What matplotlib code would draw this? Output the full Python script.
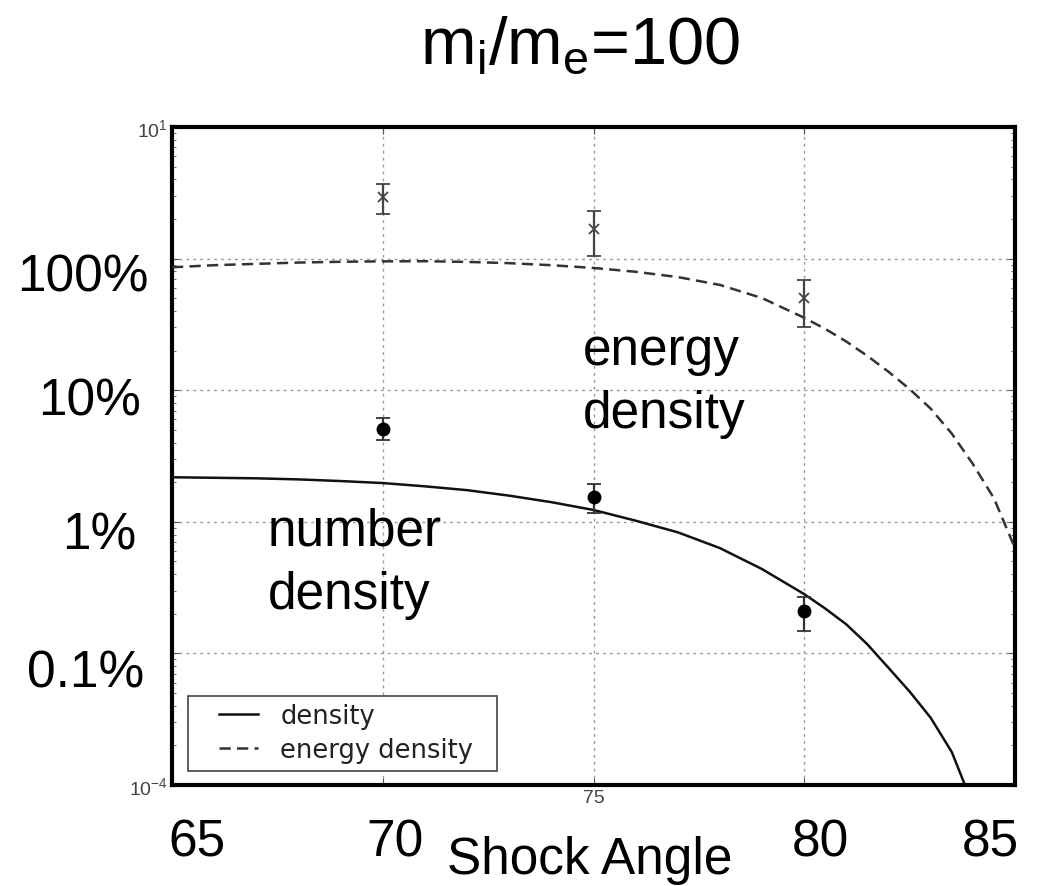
import matplotlib
matplotlib.use("Agg")
import matplotlib.pyplot as plt
import matplotlib.patches as mpatches
import numpy as np
from matplotlib.ticker import LogLocator, FixedLocator, NullFormatter, FixedFormatter

plt.rcParams['font.family'] = ['Liberation Sans', 'DejaVu Sans']
plt.rcParams['mathtext.fontset'] = 'custom'
plt.rcParams['mathtext.rm'] = 'Liberation Sans'
plt.rcParams['mathtext.it'] = 'Liberation Sans:italic'

# ---- data ----
angle_pts = [70, 75, 80]
energy_val = [2.93, 1.69, 0.50]
energy_lo = [2.18, 1.05, 0.30]
energy_hi = [3.68, 2.28, 0.69]
number_val = [0.0505, 0.0155, 0.0021]
number_lo = [0.0417, 0.0117, 0.00148]
number_hi = [0.061, 0.0195, 0.0027]

density_x = [65, 66, 67, 68, 69, 70, 71, 72, 73, 74, 75, 76, 77, 78, 79, 80, 80.5, 81, 81.5,
             82, 82.5, 83, 83.5, 84]
density_y = [0.0218, 0.0216, 0.0214, 0.0210, 0.0204, 0.0197, 0.0186, 0.0174, 0.0158, 0.0141,
             0.0123, 0.0102, 0.00832, 0.00631, 0.00437, 0.00282, 0.00219, 0.00166, 0.00117,
             0.000776, 0.000513, 0.000324, 0.000178, 0.0000708]
energy_x = [65, 66, 67, 68, 69, 70, 71, 72, 73, 74, 75, 76, 77, 78, 79, 80, 80.5, 81, 81.5,
            82, 82.5, 83, 83.5, 84, 84.5, 85]
energy_y = [0.859, 0.891, 0.912, 0.933, 0.946, 0.953, 0.955, 0.944, 0.923, 0.891, 0.849,
            0.794, 0.724, 0.631, 0.501, 0.355, 0.292, 0.234, 0.182, 0.138, 0.102, 0.0724,
            0.0468, 0.0275, 0.0151, 0.0063]

pct_labels = ["100%", "10%", "1%", "0.1%"]
angle_labels = ["65", "70", "80", "85"]
ytick_vals = [1e-4, 1e-3, 1e-2, 1e-1, 1e0, 1e1]
ytick_labels = [r"$10^{-4}$", "", "", "", "", r"$10^{1}$"]
xtick_vals = [65, 70, 75, 80, 85]
xtick_labels = ["", "", "75", "", ""]
title_text = r"m$_\mathregular{i}$/m$_\mathregular{e}$=100"
xlabel_text = "Shock Angle"

W, H = 1053, 887
fig = plt.figure(figsize=(W / 100, H / 100), dpi=100)
fig.patch.set_facecolor("white")
ax = fig.add_axes([172 / W, 1 - 786 / H, (1015 - 172) / W, (786 - 128) / H])
ax.set_yscale("log")
ax.set_xlim(65, 85)
ax.set_ylim(1e-4, 1e1)

# curves
ax.plot(density_x, density_y, color="#111111", lw=1.8, label="density", zorder=3)
ax.plot(energy_x, energy_y, color="#333333", lw=1.8, ls=(0, (4.5, 2.5)), label="energy density", zorder=3)

# data points with error bars
e_err = [np.array(energy_val) - np.array(energy_lo), np.array(energy_hi) - np.array(energy_val)]
n_err = [np.array(number_val) - np.array(number_lo), np.array(number_hi) - np.array(number_val)]
ax.errorbar(angle_pts, energy_val, yerr=e_err, fmt="x", color="#444444", ms=7, mew=1.3,
            ecolor="#444444", elinewidth=1.6, capsize=5, capthick=1.3, zorder=4)
ax.errorbar(angle_pts, number_val, yerr=n_err, fmt="o", color="black", ms=9,
            ecolor="#333333", elinewidth=1.6, capsize=5, capthick=1.3, zorder=4)

# grid / ticks
ax.xaxis.set_major_locator(FixedLocator(xtick_vals))
ax.xaxis.set_major_formatter(FixedFormatter(xtick_labels))
ax.yaxis.set_major_locator(FixedLocator(ytick_vals))
ax.yaxis.set_major_formatter(FixedFormatter(ytick_labels))
ax.yaxis.set_minor_locator(LogLocator(base=10, subs=np.arange(2, 10), numticks=10))
ax.yaxis.set_minor_formatter(NullFormatter())
ax.tick_params(axis="both", which="both", direction="in", top=True, right=True, colors="#555555")
ax.tick_params(axis="both", which="major", length=5, width=0.8, pad=3, labelsize=14,
               labelcolor="#444444")
ax.tick_params(axis="both", which="minor", length=3, width=0.6)
ax.grid(True, which="major", color="#999999", ls=(0, (2, 3)), lw=1.0)
for s in ax.spines.values():
    s.set_linewidth(3.0)
    s.set_color("black")

# legend: white framed box + frameless legend inside it
frame = mpatches.Rectangle((188 / W, 1 - 772 / H), 309 / W, 75 / H, transform=fig.transFigure,
                           facecolor="white", edgecolor="#444444", lw=1.2, zorder=4.5,
                           clip_on=False)
ax.add_patch(frame)
leg = ax.legend(loc="upper left", bbox_to_anchor=(219 / W, 1 - 704 / H),
                bbox_transform=fig.transFigure, borderaxespad=0, borderpad=0,
                prop={"family": "DejaVu Sans", "size": 18.5}, frameon=False,
                handlelength=1.5, handletextpad=0.88, labelspacing=0.3)
leg.set_zorder(5)
for t in leg.get_texts():
    t.set_color("#222222")

def ft(x, y, s, **kw):
    return fig.text(x / W, 1 - y / H, s, **kw)

big = dict(fontsize=37, color="black")
pct_pos = [(149, 292), (141, 416), (136, 550), (144, 688)]
for (x, y), s in zip(pct_pos, pct_labels):
    ft(x, y, s, ha="right", va="baseline", **big)

ang_pos = [(197, 857), (395, 857), (820, 857), (990, 857)]
for (x, y), s in zip(ang_pos, angle_labels):
    ft(x, y, s, ha="center", va="baseline", **big)

ft(590, 874, xlabel_text, ha="center", va="baseline", **big)
ft(580, 64, title_text, ha="center", va="baseline", fontsize=48)

ft(583, 428, "energy\ndensity", ha="left", va="baseline", fontsize=37, linespacing=1.38)
ft(268, 609, "number\ndensity", ha="left", va="baseline", fontsize=37, linespacing=1.38)

fig.savefig("out.png", dpi=100, facecolor="white")
